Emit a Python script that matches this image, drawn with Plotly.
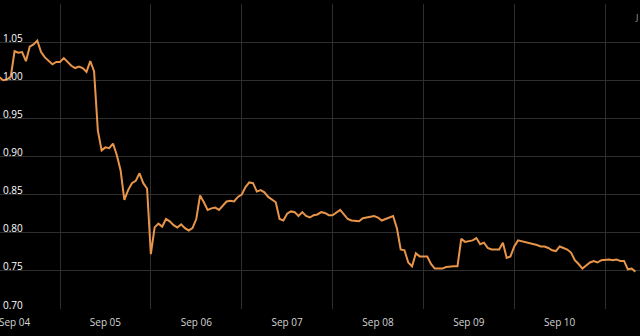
import pandas as pd
import plotly.graph_objects as go

start_time = "2023-09-04 08:00"
values = [
    1.004, 1.000, 1.001, 1.005, 1.038, 1.036, 1.037, 1.025, 1.044, 1.047,
    1.052, 1.037, 1.030, 1.025, 1.021, 1.024, 1.024, 1.029, 1.024, 1.019,
    1.016, 1.018, 1.016, 1.011, 1.025, 1.012, 0.934, 0.908, 0.912, 0.911,
    0.917, 0.902, 0.882, 0.843, 0.856, 0.865, 0.868, 0.878, 0.865, 0.858,
    0.772, 0.807, 0.812, 0.808, 0.818, 0.815, 0.810, 0.807, 0.811, 0.806,
    0.803, 0.806, 0.818, 0.849, 0.840, 0.830, 0.832, 0.833, 0.830, 0.835,
    0.841, 0.842, 0.841, 0.847, 0.850, 0.860, 0.866, 0.865, 0.854, 0.856,
    0.853, 0.847, 0.843, 0.840, 0.818, 0.816, 0.825, 0.828, 0.827, 0.822,
    0.827, 0.822, 0.820, 0.823, 0.824, 0.827, 0.826, 0.823, 0.823, 0.827,
    0.830, 0.824, 0.818, 0.816, 0.815, 0.815, 0.819, 0.820, 0.822, 0.822,
    0.820, 0.816, 0.818, 0.820, 0.822, 0.806, 0.778, 0.777, 0.761, 0.756,
    0.773, 0.769, 0.769, 0.769, 0.759, 0.753, 0.753, 0.753, 0.755, 0.756,
    0.756, 0.756, 0.792, 0.788, 0.789, 0.790, 0.793, 0.785, 0.787, 0.780,
    0.778, 0.778, 0.778, 0.787, 0.767, 0.769, 0.782, 0.790, 0.789, 0.788,
    0.786, 0.785, 0.784, 0.782, 0.782, 0.780, 0.777, 0.776, 0.782, 0.780,
    0.778, 0.774, 0.764, 0.759, 0.753, 0.757, 0.761, 0.763, 0.761, 0.764,
    0.765, 0.765, 0.764, 0.765, 0.763, 0.763, 0.752, 0.753, 0.749,
]
times = pd.date_range(start_time, periods=len(values), freq="h")

# day labels (centred at mid-day) and day boundaries (grid lines)
label_days = pd.date_range("2023-09-04 12:00", periods=7, freq="D")
y_tickvals = [0.70, 0.75, 0.80, 0.85, 0.90, 0.95, 1.00, 1.05]
x_range = ["2023-09-04 08:09", "2023-09-11 09:13"]
y_range = [0.70, 1.10]

GRID = "#2e2e2e"

fig = go.Figure()
fig.add_trace(go.Scatter(
    x=times, y=values, mode="lines",
    line=dict(color="#e8954a", width=2),
    hoverinfo="skip",
))

fig.update_layout(
    width=640, height=336,
    margin=dict(l=0, r=0, t=4, b=27),
    paper_bgcolor="#000000",
    plot_bgcolor="#000000",
    showlegend=False,
    font=dict(family="Open Sans", size=10, color="#d4d4d4"),
    xaxis=dict(
        range=x_range,
        type="date",
        tickmode="array",
        tickvals=label_days,
        tickformat="%b %d",
        showgrid=False,
        minor=dict(dtick=86400000, tick0="2023-09-04", showgrid=True,
                   gridcolor=GRID, gridwidth=1, ticks=""),
        ticklabelstandoff=6,
        ticklabeloverflow="allow",
        zeroline=False,
        showline=False,
        ticks="",
    ),
    yaxis=dict(
        range=y_range,
        tickmode="array",
        tickvals=y_tickvals,
        tickformat=".2f",
        ticklabelposition="inside",
        ticklabelshift=-4,
        ticklabeloverflow="allow",
        showgrid=True,
        gridcolor=GRID,
        gridwidth=1,
        minor=dict(dtick=0.05, tick0=0.70, showgrid=True,
                   gridcolor=GRID, gridwidth=1, ticks=""),
        zeroline=False,
        showline=False,
        ticks="",
    ),
    annotations=[dict(
        text="J", xref="paper", yref="paper", x=1, y=1,
        xanchor="right", yanchor="top", yshift=-5, xshift=0,
        showarrow=False, font=dict(size=9, color="#a0a0a0"),
    )],
)

fig.write_html("out.html")
